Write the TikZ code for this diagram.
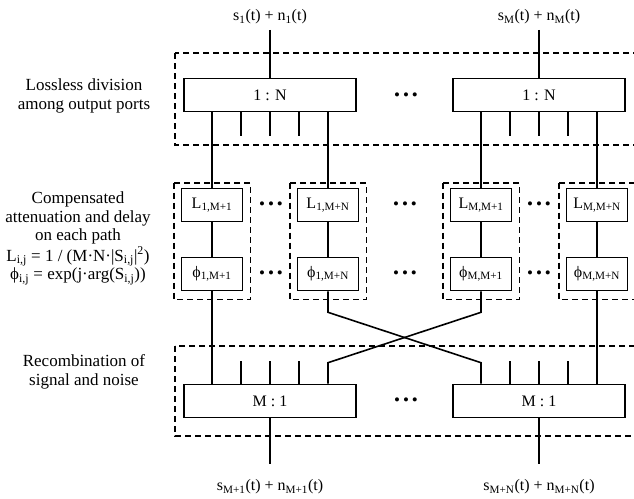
\documentclass[tikz,border=0pt]{standalone}
\usepackage{fontspec}
\setmainfont{Liberation Serif}
\usetikzlibrary{calc}

\newcommand{\tsub}[1]{\textsubscript{#1}}
\tikzset{
  blk/.style={draw,line width=1.6pt,inner sep=0pt,minimum height=33pt},
  grp/.style={draw,line width=1.6pt,dash pattern=on 6pt off 4pt},
  wire/.style={line width=1.6pt},
  dots/.style={inner sep=0pt,font=\fontsize{17}{17}\selectfont},
  lbl/.style={align=center,inner sep=0pt,font=\fontsize{17}{18.5}\selectfont}
}

\begin{document}
\begin{tikzpicture}[x=1pt,y=-1pt]
\fontsize{16}{18}\selectfont
\useasboundingbox (0,0) rectangle (634,498);

% inputs
\node (in1) at (270,17) {s\tsub{1}(t) + n\tsub{1}(t)};
\node (in2) at (539,17) {s\tsub{M}(t) + n\tsub{M}(t)};

% lossless division
\draw[grp] (175,53) rectangle (660,145);
\node[blk,minimum width=172pt] (spl1) at (270,95) {1 : N};
\node[blk,minimum width=172pt] (spl2) at (539,95) {1 : N};
\node[dots] (d0) at (406,97) {•\,•\,•};
\draw[wire] (in1) -- (spl1);
\draw[wire] (in2) -- (spl2);
\node[lbl] (t1) at (84,96) {Lossless division\\among output ports};

% attenuation and delay
\foreach \n/\x/\i in {1/212/{1,M+1},2/328/{1,M+N},3/481/{M,M+1},4/597/{M,M+N}}{
  \node[blk,minimum width=61pt] (L\n) at (\x,205) {L\tsub{\i}};
  \node[blk,minimum width=61pt] (P\n) at (\x,274) {ϕ\tsub{\i}};
  \draw[grp] ($(L\n.north west)+(-7,-5)$) rectangle ($(P\n.south east)+(7,8)$);
  \draw[wire] (L\n) -- (P\n);
}
\foreach \x in {271,405,539}{
  \node[dots] (da\x) at (\x,206) {•\,•\,•};
  \node[dots] (db\x) at (\x,275) {•\,•\,•};
}
\draw[wire] (spl1.south -| L1) -- (L1);
\draw[wire] (spl1.south -| L2) -- (L2);
\draw[wire] (spl2.south -| L3) -- (L3);
\draw[wire] (spl2.south -| L4) -- (L4);
\foreach \dx in {-29,0,29}{
  \draw[wire] ($(spl1.south)+(\dx,0)$) -- ++(0,24);
  \draw[wire] ($(spl2.south)+(\dx,0)$) -- ++(0,24);
}
\node[lbl] (t2) at (78,218) {Compensated\\attenuation and delay\\on each path};
\node[lbl] (t3) at (78,266) {L\tsub{i,j} = 1 / (M·N·|S\tsub{i,j}|\textsuperscript{2})\\ϕ\tsub{i,j} = exp(j·arg(S\tsub{i,j}))};

% recombination
\draw[grp] (175,346) rectangle (660,436);
\node[blk,minimum width=172pt] (cmb1) at (270,401) {M : 1};
\node[blk,minimum width=172pt] (cmb2) at (539,401) {M : 1};
\node[dots] (d9) at (406,402) {•\,•\,•};
\foreach \dx in {-29,0,29}{
  \draw[wire] ($(cmb1.north)+(\dx,0)$) -- ++(0,-23);
  \draw[wire] ($(cmb2.north)+(\dx,0)$) -- ++(0,-23);
}
\draw[wire] (P1) -- (P1 |- cmb1.north);
\draw[wire] (P4) -- (P4 |- cmb2.north);
\draw[wire] (P2.south) -- ++(0,21) -- ($(P3 |- cmb2.north)+(0,-21)$) -- (P3 |- cmb2.north);
\draw[wire] (P3.south) -- ++(0,21) -- ($(P2 |- cmb1.north)+(0,-21)$) -- (P2 |- cmb1.north);
\node[lbl] (t4) at (84,372) {Recombination of\\signal and noise};

% outputs
\node (out1) at (270,487) {s\tsub{M+1}(t) + n\tsub{M+1}(t)};
\node (out2) at (539,487) {s\tsub{M+N}(t) + n\tsub{M+N}(t)};
\draw[wire] (cmb1) -- ([yshift=10pt]out1.north);
\draw[wire] (cmb2) -- ([yshift=10pt]out2.north);
\end{tikzpicture}
\end{document}
